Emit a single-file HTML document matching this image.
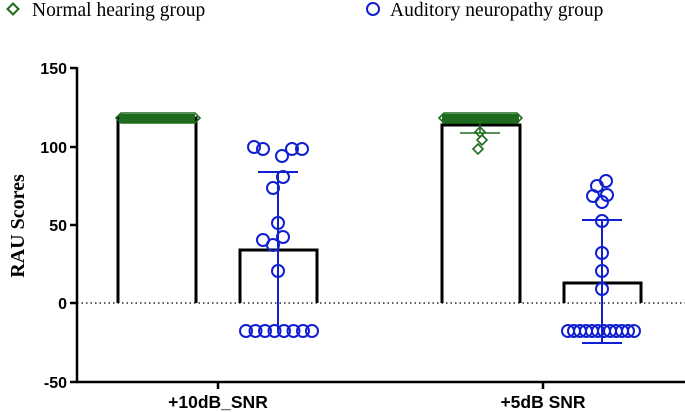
<!DOCTYPE html>
<html><head><style>body{margin:0;background:#fff}svg{display:block}</style></head>
<body>
<svg width="685" height="412" viewBox="0 0 685 412" xmlns="http://www.w3.org/2000/svg">
<g font-family="Liberation Serif, serif" font-size="19.5" fill="#000">
<path d="M13 3.5 L18.5 9 L13 14.5 L7.5 9 Z" fill="none" stroke="#1e6b1e" stroke-width="2"/>
<text x="32" y="16">Normal hearing group</text>
<circle cx="373" cy="9" r="6" fill="none" stroke="#1020d0" stroke-width="2"/>
<text x="390" y="16">Auditory neuropathy group</text>
</g>
<text transform="translate(24,226) rotate(-90)" text-anchor="middle" font-family="Liberation Serif, serif" font-weight="bold" font-size="20">RAU Scores</text>
<g font-family="Liberation Sans, sans-serif" font-weight="bold" font-size="16" text-anchor="end">
<text x="67" y="74">150</text><text x="67" y="153">100</text><text x="67" y="231">50</text><text x="67" y="309">0</text><text x="67" y="388">-50</text>
</g>
<g stroke="#000" stroke-width="2.5" fill="none">
<line x1="77" y1="67" x2="77" y2="383"/>
<line x1="76" y1="382" x2="685" y2="382"/>
<line x1="70" y1="68" x2="77" y2="68"/><line x1="70" y1="147" x2="77" y2="147"/><line x1="70" y1="225" x2="77" y2="225"/><line x1="70" y1="303" x2="77" y2="303"/><line x1="70" y1="382" x2="77" y2="382"/>
<line x1="218" y1="382" x2="218" y2="389"/><line x1="543" y1="382" x2="543" y2="389"/>
</g>
<line x1="77" y1="303" x2="685" y2="303" stroke="#000" stroke-width="1.2" stroke-dasharray="1.5,3"/>
<g font-family="Liberation Sans, sans-serif" font-weight="bold" font-size="17.5" text-anchor="middle">
<text x="218" y="408">+10dB_SNR</text><text x="543" y="408">+5dB SNR</text>
</g>
<g stroke="#000" stroke-width="3" fill="none">
<polyline points="118,303 118,118 196,118 196,303"/>
<polyline points="240,303 240,250 317,250 317,303"/>
<polyline points="442,303 442,125 520,125 520,303"/>
<polyline points="564,303 564,283 641,283 641,303"/>
</g>
<g fill="#1e6b1e" stroke="#1e6b1e">
<rect x="119" y="114" width="76" height="9" stroke="none"/>
<rect x="442" y="114" width="77" height="9" stroke="none"/>
</g>
<g fill="none" stroke="#1e6b1e" stroke-width="1.6">
<path d="M116 118 L121 113 L195 113 L200 118 L195 123 L121 123 Z"/>
<path d="M439 118 L444 113 L517 113 L522 118 L517 123 L444 123 Z"/>
<line x1="480" y1="118" x2="480" y2="133"/><line x1="460" y1="133" x2="500" y2="133"/>
<path d="M480 127 L485 132 L480 137 L475 132 Z"/>
<path d="M482 135 L487 140 L482 145 L477 140 Z"/>
<path d="M478 144 L483 149 L478 154 L473 149 Z"/>
</g>
<g fill="none" stroke="#1020d0" stroke-width="2">
<line x1="278" y1="172" x2="278" y2="330"/><line x1="258" y1="172" x2="298" y2="172"/>
<line x1="602" y1="220" x2="602" y2="343"/><line x1="582" y1="220" x2="622" y2="220"/><line x1="582" y1="343" x2="622" y2="343"/>
<circle cx="254" cy="147" r="6"/><circle cx="263" cy="149" r="6"/><circle cx="282" cy="156" r="6"/><circle cx="292" cy="149" r="6"/><circle cx="302" cy="149" r="6"/>
<circle cx="283" cy="177" r="6"/><circle cx="273" cy="188" r="6"/><circle cx="278" cy="223" r="6"/><circle cx="263" cy="240" r="6"/><circle cx="283" cy="237" r="6"/><circle cx="273" cy="245" r="6"/><circle cx="278" cy="271" r="6"/>
<circle cx="246" cy="331" r="6"/><circle cx="255.5" cy="331" r="6"/><circle cx="265" cy="331" r="6"/><circle cx="274.5" cy="331" r="6"/><circle cx="284" cy="331" r="6"/><circle cx="293.5" cy="331" r="6"/><circle cx="303" cy="331" r="6"/><circle cx="312" cy="331" r="6"/>
<circle cx="606" cy="181" r="6"/><circle cx="597" cy="186" r="6"/><circle cx="593" cy="196" r="6"/><circle cx="607" cy="195" r="6"/><circle cx="602" cy="202" r="6"/>
<circle cx="602" cy="221" r="6"/><circle cx="602" cy="253" r="6"/><circle cx="602" cy="271" r="6"/><circle cx="602" cy="289" r="6"/>
<circle cx="568" cy="331" r="6"/><circle cx="574" cy="331" r="6"/><circle cx="580" cy="331" r="6"/><circle cx="586" cy="331" r="6"/><circle cx="592" cy="331" r="6"/><circle cx="598" cy="331" r="6"/><circle cx="604" cy="331" r="6"/><circle cx="610" cy="331" r="6"/><circle cx="616" cy="331" r="6"/><circle cx="622" cy="331" r="6"/><circle cx="628" cy="331" r="6"/><circle cx="634" cy="331" r="6"/>
</g>
</svg>
</body></html>
